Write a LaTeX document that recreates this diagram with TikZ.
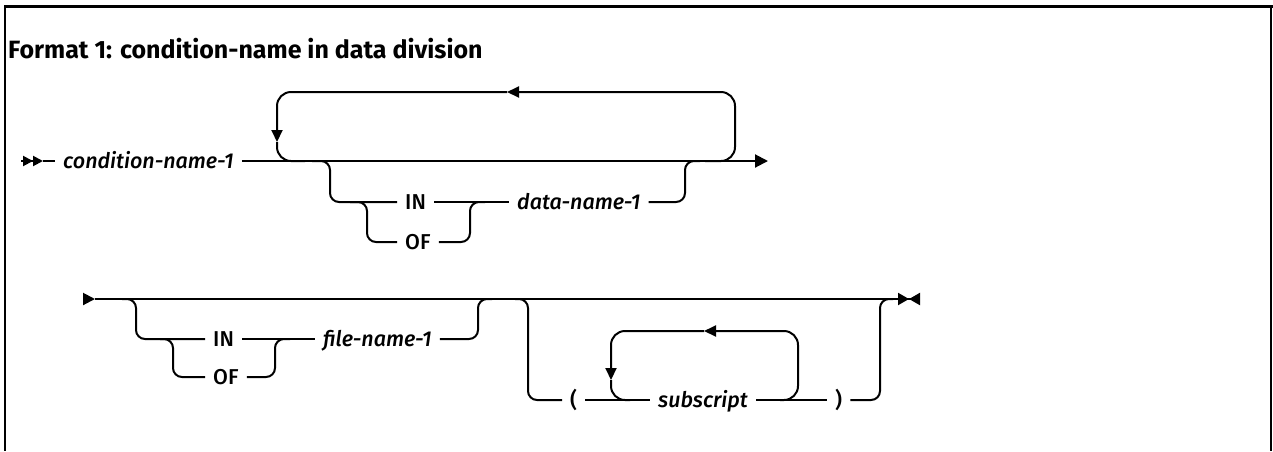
\documentclass[tikz,border=0pt]{standalone}
\usepackage{fontspec}
\setmainfont{Fira Sans}
\newfontfamily\railfont{Fira Sans Medium}
\usetikzlibrary{arrows.meta}

\begin{document}
\begin{tikzpicture}[
  x=1pt, y=-1pt,
  rail/.style={line width=2pt, rounded corners=9pt},
  loop/.style={line width=2pt, rounded corners=14pt},
  word/.style={inner xsep=8pt, inner ysep=0pt, text height=14pt, text depth=0pt, anchor=west, font=\railfont\fontsize{21.5}{26}\selectfont},
  var/.style={word, font=\railfont\fontsize{21.5}{26}\selectfont\itshape},
  tip/.style={-{Triangle[length=12pt,width=11pt]}}
]
\useasboundingbox (0,0) rectangle (1273,451);

% frame and title
\draw[line width=3pt] (4,6) -- (1273,6);
\draw[line width=2pt] (5,6) -- (5,451);
\draw[line width=2pt] (1271,6) -- (1271,451);
\node[anchor=base west, inner sep=0pt, font=\fontsize{25}{30}\selectfont\bfseries] (title) at (8,58) {Format 1: condition-name in data division};

% first line
\node[var] (cond) at (55,161) {condition-name-1};
\node[word] (in1) at (397,202) {IN};
\node[word] (of1) at (397,242) {OF};
\node[var] (data) at (509,202) {data-name-1};
\coordinate (r1s) at (21,161);
\coordinate (r1a) at (43,161);
\coordinate (r1e) at (768,161);
\draw[line width=2pt, -{Triangle[length=10pt,width=10pt] Triangle[length=10pt,width=10pt]}] (r1s) -- (r1a);
\draw[rail] (r1a) -- (cond.west);
\draw[rail, -{Triangle[length=13pt,width=13pt]}] (cond.east) -- (r1e);
% repeat loop
\draw[loop, tip] (705,161) -| (735,92) -- (507,92);
\draw[loop, tip] (507,92) -| (277,142);
\draw[loop] (277,142) |- (305,161);
% optional qualifier
\draw[rail] (312,161) -| (330,202) -- (in1.west);
\draw[rail] (350,202) -| (367,242) -- (of1.west);
\draw[rail] (of1.east) -| (470,202) -- (485,202);
\draw[rail] (in1.east) -- (data.west);
\draw[rail] (data.east) -| (685,161) -- (700,161);

% second line
\node[word] (in2) at (205,339) {IN};
\node[word] (of2) at (205,377) {OF};
\node[var] (file) at (315,339) {file-name-1};
\node[word] (lp) at (562,400) {(};
\node[var] (sub) at (650,400) {subscript};
\node[word] (rp) at (827,400) {)};
\coordinate (r2s) at (83,299);
\coordinate (r2a) at (95,299);
\coordinate (r2e) at (920,299);
\draw[line width=2pt, -{Triangle[length=12pt,width=12pt]}] (r2s) -- (r2a);
\draw[rail, -{Triangle[length=11pt,width=12pt] Triangle[length=11pt,width=12pt,reversed]}] (r2a) -- (r2e);
% optional file qualifier
\draw[rail] (122,299) -| (136,339) -- (in2.west);
\draw[rail] (160,339) -| (173,377) -- (of2.west);
\draw[rail] (of2.east) -| (275,339) -- (290,339);
\draw[rail] (in2.east) -- (file.west);
\draw[rail] (file.east) -| (478,299) -- (492,299);
% optional subscripts
\draw[rail] (515,299) -| (528,400) -- (lp.west);
\draw[rail] (lp.east) -- (sub.west);
\draw[rail] (sub.east) -- (rp.west);
\draw[rail] (rp.east) -| (880,299) -- (893,299);
\draw[loop, tip] (780,400) -| (798,331) -- (704,331);
\draw[loop, tip] (704,331) -| (611,380);
\draw[loop] (611,380) |- (630,400);
\end{tikzpicture}
\end{document}
